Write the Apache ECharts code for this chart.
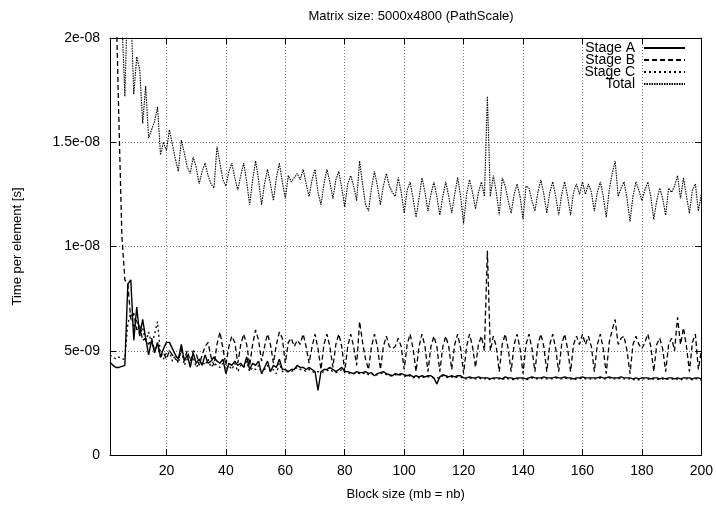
<!DOCTYPE html>
<html><head><meta charset="utf-8">
<script src="https://cdn.jsdelivr.net/npm/echarts@6/dist/echarts.min.js"></script>
<style>html,body{margin:0;padding:0;background:#fff}#c{width:716px;height:506px}</style>
</head><body><div id="c"></div>
<script>
const titleText = 'Matrix size: 5000x4800 (PathScale)';
const xAxisName = 'Block size (mb = nb)';
const yAxisName = 'Time per element [s]';
const xTicks = [20, 40, 60, 80, 100, 120, 140, 160, 180, 200];
// y values below are in units of 1e-9 s
const yTickLabels = ['0', '5e-09', '1e-08', '1.5e-08', '2e-08'];
const seriesNames = ['Stage A', 'Stage B', 'Stage C', 'Total'];
const blockSizes = [];
for (let b = 1; b <= 200; b++) blockSizes.push(b);

const stageA = [
4.45,4.3,4.2,4.2,4.25,4.3,8.2,8.4,5.5,7.1,
5.7,6.5,5.6,4.8,5.5,4.9,5.4,4.7,5.1,5.4,
5.4,5.1,4.8,4.6,5.3,4.5,4.8,4.2,4.9,4.4,
4.6,4.3,4.8,4.4,4.5,4.7,4.5,4.4,4.6,3.9,
4.4,4.3,4.5,4.3,4.4,4.2,4.7,4.1,4.4,4.3,
4.5,3.9,4.2,4.5,4.0,4.3,4.2,4.6,4.1,4.1,
4.0,4.1,4.1,4.3,4.2,4.2,4.1,4.2,4.1,4.0,
3.1,4.0,4.1,4.1,4.2,4.1,4.0,4.1,4.2,4.0,
4.0,3.95,3.9,4.0,3.95,3.95,4.0,3.9,3.95,3.8,
3.9,3.95,4.0,3.9,3.85,3.8,3.9,3.85,3.9,3.85,
3.8,3.85,3.75,3.8,3.75,3.8,3.75,3.8,3.8,3.7,
3.4,3.75,3.85,3.8,3.75,3.8,3.75,3.8,3.8,3.7,
3.7,3.75,3.7,3.7,3.75,3.7,3.7,3.7,3.65,3.7,
3.7,3.7,3.65,3.75,3.7,3.7,3.65,3.7,3.7,3.7,
3.65,3.7,3.75,3.7,3.7,3.7,3.75,3.7,3.7,3.7,
3.75,3.7,3.7,3.75,3.7,3.7,3.65,3.7,3.7,3.75,
3.7,3.7,3.7,3.7,3.7,3.75,3.7,3.7,3.75,3.7,
3.7,3.7,3.75,3.7,3.7,3.7,3.65,3.7,3.65,3.7,
3.7,3.7,3.65,3.7,3.7,3.65,3.7,3.65,3.7,3.7,
3.65,3.7,3.65,3.7,3.7,3.7,3.65,3.7,3.7,3.65
];
const stageB = [
40,30,22,16,10.5,8.4,8.2,6.5,6.8,6.0,
6.2,5.5,5.6,5.3,5.6,5.0,5.3,4.7,4.9,4.6,
5.0,4.8,4.6,4.5,5.1,4.6,5.0,4.5,5.0,4.9,
4.3,4.8,5.2,5.4,4.7,4.3,5.3,5.9,5.1,4.3,
5.2,5.7,5.4,4.4,5.3,5.8,5.3,4.3,5.3,6.0,
5.5,4.5,5.2,5.8,5.3,4.4,5.3,5.9,5.6,4.4,
5.4,5.6,5.2,5.5,5.3,5.8,5.2,4.4,5.2,5.8,
5.1,4.1,5.3,5.8,5.2,4.2,5.3,5.8,5.2,4.0,
5.2,5.8,5.2,4.3,6.4,5.4,4.6,4.1,5.2,5.8,
5.2,4.1,5.2,5.7,5.2,5.1,5.2,5.6,5.2,4.1,
5.3,5.8,5.1,4.0,5.2,5.8,5.2,4.0,5.2,5.7,
5.2,4.0,5.2,5.7,5.2,4.1,5.3,5.8,5.1,3.9,
5.2,5.8,5.2,4.2,5.3,5.7,5.0,9.8,5.0,5.7,
5.2,4.0,5.3,5.8,5.1,4.0,5.3,5.8,5.1,3.9,
5.3,5.8,5.1,4.0,5.3,5.8,5.2,4.0,5.3,5.8,
5.1,4.0,5.3,5.8,5.1,4.0,5.3,5.7,5.3,5.8,
5.3,5.7,5.2,4.0,5.3,5.8,5.1,3.9,5.4,6.0,
6.5,5.3,5.6,5.7,5.0,3.9,5.3,5.7,5.3,5.1,
5.4,5.8,5.2,4.0,5.3,5.6,5.1,4.0,5.3,5.6,
5.0,6.6,5.3,6.1,5.2,4.0,5.4,5.8,4.1,5.0
];
const stageC = [
4.8,4.7,4.6,4.7,4.6,4.6,6.3,6.8,6.1,6.5,
5.8,6.1,5.4,5.9,5.3,5.8,6.4,4.8,4.6,4.9,
5.0,4.5,4.8,4.4,5.1,4.3,4.6,4.4,4.7,4.2,
4.4,4.5,4.3,4.6,4.2,4.4,4.3,4.2,4.4,4.1,
4.3,4.1,4.4,4.0,4.3,4.2,4.5,4.0,4.2,4.1,
4.3,3.9,4.1,4.3,4.0,4.1,3.9,4.4,4.0,4.0,
4.0,4.0,4.1,4.2,4.1,4.1,4.0,4.1,4.0,3.95,
4.0,3.95,4.0,4.05,4.1,4.0,3.95,4.0,4.1,3.95,
3.95,3.9,3.9,3.95,3.9,3.9,3.95,3.85,3.9,3.8,
3.85,3.9,3.95,3.85,3.8,3.8,3.85,3.8,3.85,3.8,
3.75,3.8,3.7,3.75,3.7,3.75,3.7,3.75,3.75,3.7,
3.7,3.7,3.8,3.75,3.7,3.75,3.7,3.75,3.75,3.65,
3.65,3.7,3.65,3.65,3.7,3.65,3.65,3.7,3.6,3.65,
3.65,3.65,3.6,3.7,3.65,3.65,3.6,3.65,3.65,3.65,
3.6,3.65,3.7,3.65,3.65,3.65,3.7,3.65,3.65,3.65,
3.7,3.65,3.65,3.7,3.65,3.65,3.6,3.65,3.65,3.7,
3.65,3.65,3.65,3.65,3.65,3.7,3.65,3.65,3.7,3.65,
3.65,3.65,3.7,3.65,3.65,3.65,3.6,3.65,3.6,3.65,
3.65,3.65,3.6,3.65,3.65,3.6,3.65,3.6,3.65,3.65,
3.6,3.65,3.6,3.65,3.65,3.65,3.6,3.65,3.65,3.6
];
const total = [
48,39,31,25,21,17.2,22.5,21.5,17.3,19.1,
18.5,15.9,17.7,15.2,15.6,16.0,16.7,14.4,15.0,14.6,
15.6,14.9,14.2,13.6,15.1,14.5,13.8,13.5,14.3,13.8,
13.0,13.6,14.0,13.4,13.0,12.8,14.8,14.0,13.2,12.9,
13.6,14.0,13.3,12.7,13.4,14.0,13.1,12.0,13.2,14.1,
13.2,12.0,13.0,13.7,13.0,12.2,13.3,14.0,13.1,12.3,
13.4,13.1,13.3,13.5,13.2,13.7,13.0,12.4,13.2,13.7,
12.6,12.0,13.0,13.7,13.1,12.3,13.2,13.6,12.8,11.9,
13.0,13.4,12.9,12.2,14.1,13.0,12.0,11.7,12.8,13.6,
12.9,12.0,12.9,13.5,12.9,12.6,12.4,13.3,12.6,11.6,
12.7,13.1,12.3,11.4,12.3,13.3,12.6,11.7,12.5,13.1,
12.4,11.5,12.4,13.1,12.4,11.6,12.5,13.3,12.4,11.1,
12.5,13.2,12.6,11.8,12.6,13.1,12.4,17.2,12.4,13.4,
12.6,11.5,13.3,12.9,12.2,11.6,12.5,13.0,12.4,11.3,
12.9,12.8,12.2,11.7,12.6,13.2,12.5,11.6,12.6,13.1,
12.4,11.5,12.5,13.1,12.4,11.5,12.6,13.0,12.5,13.1,
12.5,13.0,12.6,11.7,12.6,13.1,12.4,11.4,12.7,13.5,
14.1,12.4,12.8,13.1,12.3,11.2,12.4,13.1,12.7,12.2,
12.7,13.1,12.4,11.3,12.2,12.8,12.3,11.5,12.8,12.6,
12.9,13.4,12.3,13.3,12.4,11.6,12.7,13.0,11.7,12.5
];

const FONT = 'Liberation Sans, Arial, Helvetica, sans-serif';
const FS = 14;
function pairs(vals) { return blockSizes.map((b, i) => [b, vals[i]]); }
const gridLine = { show: true, lineStyle: { color: '#777', type: [1, 2], width: 1 } };
const axLine = { show: true, onZero: false, lineStyle: { color: '#000', width: 1 } };
const tickIn = { show: true, inside: true, length: 6, lineStyle: { color: '#000' }, customValues: xTicks };

const chart = echarts.init(document.getElementById('c'), null, { renderer: 'canvas' });
chart.setOption({
  animation: false,
  backgroundColor: '#fff',
  textStyle: { fontFamily: FONT, color: '#000' },
  title: {
    text: titleText, left: 406, top: 5, textAlign: 'center',
    textStyle: { fontFamily: FONT, fontSize: 13, fontWeight: 'normal', color: '#000' }
  },
  grid: { left: 110, right: 13, top: 38, bottom: 43, containLabel: false },
  legend: {
    data: seriesNames, orient: 'vertical', right: 30, top: 41, padding: 0,
    align: 'right', itemWidth: 41, itemHeight: 10, itemGap: -2,
    textStyle: { fontFamily: FONT, fontSize: FS, lineHeight: 12, color: '#000', padding: [0, 4, 0, 0] },
    itemStyle: { opacity: 0 }
  },
  xAxis: [
    { type: 'value', min: 1, max: 200, position: 'bottom',
      name: xAxisName, nameLocation: 'middle', nameGap: 33,
      nameTextStyle: { fontFamily: FONT, fontSize: 13, color: '#000' },
      axisLine: axLine, axisTick: tickIn,
      axisLabel: { customValues: xTicks, margin: 9, fontFamily: FONT, fontSize: FS, color: '#000' },
      splitLine: gridLine },
    { type: 'value', min: 1, max: 200, position: 'top',
      axisLine: axLine, axisTick: tickIn, axisLabel: { show: false }, splitLine: { show: false } }
  ],
  yAxis: [
    { type: 'value', min: 0, max: 20, interval: 5, position: 'left',
      name: yAxisName, nameLocation: 'middle', nameGap: 86, nameRotate: 90,
      nameTextStyle: { fontFamily: FONT, fontSize: 13, color: '#000' },
      axisLine: axLine, axisTick: { show: true, inside: true, length: 6, lineStyle: { color: '#000' } },
      axisLabel: { margin: 10, fontFamily: FONT, fontSize: FS, color: '#000',
        formatter: v => yTickLabels[Math.round(v / 5)] },
      splitLine: gridLine },
    { type: 'value', min: 0, max: 20, interval: 5, position: 'right',
      axisLine: axLine, axisTick: { show: true, inside: true, length: 6, lineStyle: { color: '#000' } },
      axisLabel: { show: false }, splitLine: { show: false } }
  ],
  series: [
    { name: 'Stage A', type: 'line', data: pairs(stageA), symbol: 'none', showSymbol: false,
      clip: true, lineStyle: { color: '#000', width: 1.4, type: 'solid' }, itemStyle: { color: '#000' } },
    { name: 'Stage B', type: 'line', data: pairs(stageB), symbol: 'none', showSymbol: false,
      clip: true, lineStyle: { color: '#000', width: 1.3, type: [5, 3] }, itemStyle: { color: '#000' } },
    { name: 'Stage C', type: 'line', data: pairs(stageC), symbol: 'none', showSymbol: false,
      clip: true, lineStyle: { color: '#000', width: 1.3, type: [2, 3] }, itemStyle: { color: '#000' } },
    { name: 'Total', type: 'line', data: pairs(total), symbol: 'none', showSymbol: false,
      clip: true, lineStyle: { color: '#000', width: 1.1, type: [1.5, 1] }, itemStyle: { color: '#000' } }
  ]
});
</script></body></html>
